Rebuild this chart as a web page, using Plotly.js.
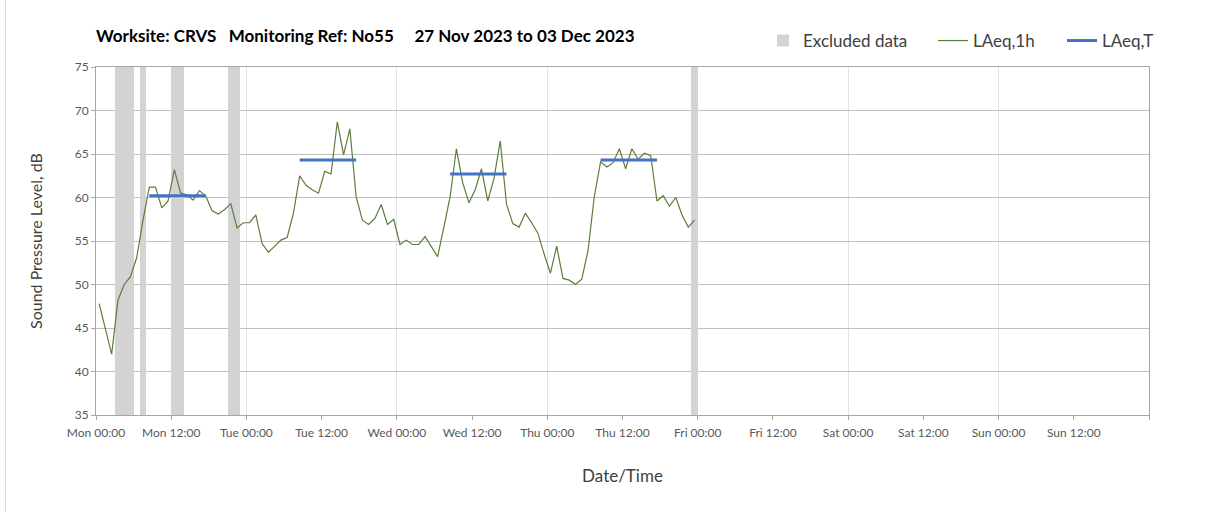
<!DOCTYPE html>
<html>
<head>
<meta charset="utf-8">
<script src="https://cdn.plot.ly/plotly-3.0.1.min.js"></script>
<style>
  html, body { margin: 0; padding: 0; background: #ffffff; }
  #wrap { position: relative; width: 1208px; height: 512px; overflow: hidden; }
  #chart { position: absolute; left: 0; top: 0; width: 1208px; height: 512px; }
  #edge { position: absolute; left: 5px; top: 0; width: 1px; height: 512px; background: #d9d9d9; }
</style>
</head>
<body>
<div id="wrap"><div id="chart"></div><div id="edge"></div></div>
<script>
// ---- Data ----
const periodStart = '2023-11-27 00:00';
const periodEnd = '2023-12-04 00:00';

// Hourly LAeq,1h values (dB), one per hour starting Mon 27 Nov 00:00
const laeq1h = [
  47.8, 44.9, 42.0, 48.2, 50.0, 50.9, 53.1, 57.4, 61.2, 61.2, 58.8, 59.6,
  63.2, 60.5, 60.3, 59.7, 60.8, 60.2, 58.5, 58.1, 58.6, 59.3, 56.5, 57.1,
  57.1, 58.0, 54.7, 53.7, 54.4, 55.1, 55.4, 58.2, 62.5, 61.4, 60.9, 60.5,
  63.0, 62.7, 68.7, 64.9, 67.9, 60.1, 57.4, 56.9, 57.6, 59.2, 56.9, 57.5,
  54.6, 55.1, 54.6, 54.6, 55.5, 54.3, 53.2, 56.6, 60.1, 65.6, 61.7, 59.4,
  60.9, 63.3, 59.6, 62.2, 66.5, 59.2, 57.0, 56.6, 58.2, 57.1, 55.9, 53.5,
  51.3, 54.4, 50.7, 50.5, 50.0, 50.6, 53.9, 60.1, 64.1, 63.5, 64.0, 65.6,
  63.3, 65.6, 64.4, 65.1, 64.8, 59.6, 60.2, 59.0, 60.0, 58.0, 56.6, 57.4
];

// Excluded data periods
const excludedStart = ['2023-11-27 03:00', '2023-11-27 07:00', '2023-11-27 12:00', '2023-11-27 21:00', '2023-11-30 23:00'];
const excludedEnd   = ['2023-11-27 06:00', '2023-11-27 08:00', '2023-11-27 14:00', '2023-11-27 23:00', '2023-12-01 00:00'];
const excludedLevel = [75, 75, 75, 75, 75];

// LAeq,T daytime values
const laeqTStart = ['2023-11-27 08:30', '2023-11-28 08:30', '2023-11-29 08:30', '2023-11-30 08:30'];
const laeqTEnd   = ['2023-11-27 17:30', '2023-11-28 17:30', '2023-11-29 17:30', '2023-11-30 17:30'];
const laeqTValue = [60.2, 64.3, 62.7, 64.3];

// Tick labels every 12 hours
const tickLabels = ['Mon 00:00', 'Mon 12:00', 'Tue 00:00', 'Tue 12:00', 'Wed 00:00', 'Wed 12:00',
  'Thu 00:00', 'Thu 12:00', 'Fri 00:00', 'Fri 12:00', 'Sat 00:00', 'Sat 12:00',
  'Sun 00:00', 'Sun 12:00', ''];

// ---- Helpers ----
const HOUR = 3600000;
function toMs(s) { const p = s.split(/[- :]/).map(Number); return Date.UTC(p[0], p[1] - 1, p[2], p[3], p[4]); }
function toStr(ms) { return new Date(ms).toISOString().replace('T', ' ').slice(0, 19); }
const t0 = toMs(periodStart);

const hourTimes = laeq1h.map((v, i) => toStr(t0 + (i + 0.5) * HOUR));
const exMid = excludedStart.map((s, i) => toStr((toMs(s) + toMs(excludedEnd[i])) / 2));
const exWidth = excludedStart.map((s, i) => toMs(excludedEnd[i]) - toMs(s));
const tX = [], tY = [];
laeqTValue.forEach((v, i) => { tX.push(laeqTStart[i], laeqTEnd[i], null); tY.push(v, v, null); });
const tickVals = tickLabels.map((l, i) => toStr(t0 + i * 12 * HOUR));

const FONT = 'Lato, "Open Sans", "DejaVu Sans", sans-serif';

const traces = [
  {
    type: 'bar', name: 'Excluded data', x: exMid, y: excludedLevel, width: exWidth,
    xaxis: 'x', yaxis: 'y', legend: 'legend',
    marker: { color: '#D3D3D3', line: { width: 0 } }, hoverinfo: 'skip'
  },
  {
    type: 'scatter', mode: 'lines', name: 'LAeq,1h', x: hourTimes, y: laeq1h,
    xaxis: 'x2', yaxis: 'y', legend: 'legend2',
    line: { color: '#5B7F3A', width: 1.2 }
  },
  {
    type: 'scatter', mode: 'lines', name: 'LAeq,T', x: tX, y: tY,
    xaxis: 'x2', yaxis: 'y', connectgaps: false, legend: 'legend3',
    line: { color: '#4472C4', width: 3 }
  }
];

function legendAt(textStartPx) {
  return {
    orientation: 'h', xref: 'container', yref: 'container',
    x: (textStartPx - 40) / 1208, xanchor: 'left', y: 1 - 41 / 512, yanchor: 'middle',
    font: { family: FONT, size: 17, color: '#404040' },
    bgcolor: 'rgba(0,0,0,0)', borderwidth: 0, itemwidth: 30
  };
}

const layout = {
  width: 1208, height: 512,
  margin: { l: 96, r: 59, t: 67, b: 97 },
  paper_bgcolor: '#ffffff', plot_bgcolor: '#ffffff',
  font: { family: FONT, color: '#595959', size: 12 },
  showlegend: true,
  bargap: 0,
  title: {
    text: 'Worksite: CRVS\u00A0\u00A0 Monitoring Ref: No55\u00A0\u00A0\u00A0\u00A0 27 Nov 2023 to 03 Dec 2023',
    font: { family: FONT, size: 17, color: '#000000', weight: 'bold' },
    xref: 'paper', x: 0, xanchor: 'left',
    yref: 'container', y: 1 - 36 / 512, yanchor: 'middle'
  },
  legend: legendAt(803),
  legend2: legendAt(973),
  legend3: legendAt(1102),
  xaxis: {
    type: 'date', range: [periodStart, periodEnd],
    tickmode: 'linear', tick0: periodStart, dtick: 24 * HOUR,
    showticklabels: false, ticks: '',
    showgrid: true, gridcolor: '#E2E2E2', gridwidth: 1,
    showline: true, linecolor: '#A6A6A6', linewidth: 1, mirror: true,
    zeroline: false, fixedrange: true
  },
  xaxis2: {
    type: 'date', range: [periodStart, periodEnd], overlaying: 'x', anchor: 'y', side: 'bottom',
    tickmode: 'array', tickvals: tickVals, ticktext: tickLabels,
    ticks: 'outside', ticklen: 4, tickcolor: '#A6A6A6', tickwidth: 1,
    ticklabelstandoff: 3,
    tickfont: { family: FONT, size: 12, color: '#595959' },
    showgrid: false, showline: false, zeroline: false,
    title: { text: 'Date/Time', font: { family: FONT, size: 17, color: '#404040' }, standoff: 30 },
    automargin: false, fixedrange: true
  },
  yaxis: {
    range: [35, 75], tickmode: 'linear', tick0: 35, dtick: 5,
    ticks: 'outside', ticklen: 4, tickcolor: '#A6A6A6', tickwidth: 1,
    tickfont: { family: FONT, size: 12, color: '#595959' },
    showgrid: true, gridcolor: '#BFBFBF', gridwidth: 1,
    showline: true, linecolor: '#A6A6A6', linewidth: 1, mirror: true,
    zeroline: false,
    title: { text: 'Sound Pressure Level, dB', font: { family: FONT, size: 16, color: '#404040' }, standoff: 28 },
    automargin: false, fixedrange: true
  }
};

Plotly.newPlot('chart', traces, layout, { displayModeBar: false, staticPlot: true });
</script>
</body>
</html>
